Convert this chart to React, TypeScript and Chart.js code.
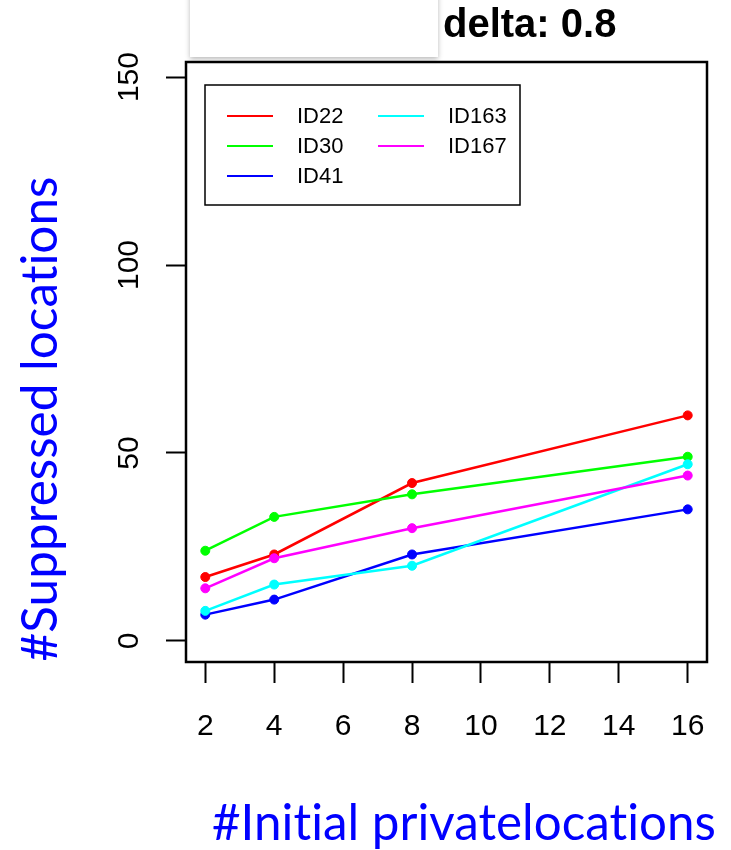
import React, { useEffect, useRef } from "react";
import { Chart, registerables } from "chart.js";

Chart.register(...registerables);

// ---- data ----
const xValues = [2, 4, 8, 16];
const seriesNames = ["ID22", "ID30", "ID41", "ID163", "ID167"];
const id22 = [17, 23, 42, 60];
const id30 = [24, 33, 39, 49];
const id41 = [7, 11, 23, 35];
const id163 = [8, 15, 20, 47];
const id167 = [14, 22, 30, 44];
const seriesValues = [id22, id30, id41, id163, id167];
const seriesColors = ["#FF0000", "#00FF00", "#0000FF", "#00FFFF", "#FF00FF"];
const xTickValues = [2, 4, 6, 8, 10, 12, 14, 16];
const yTickValues = [0, 50, 100, 150];
const xTitle = "#Initial privatelocations";
const yTitle = "#Suppressed locations";
const panelTitle = "delta: 0.8";

const TICK_FONT = '30px "Liberation Sans", Arial, sans-serif';
const LEGEND_FONT = '22px "Liberation Sans", Arial, sans-serif';
const TITLE_FAMILY = 'Lato, "Open Sans", sans-serif';

const decorPlugin = {
  id: "decor",
  beforeDraw(chart: any) {
    const ctx = chart.ctx;
    ctx.save();
    ctx.fillStyle = "#ffffff";
    ctx.fillRect(0, 0, chart.width, chart.height);
    // leftover white panel with soft shadow at the top
    ctx.shadowColor = "rgba(0,0,0,0.28)";
    ctx.shadowBlur = 5;
    ctx.shadowOffsetX = 0;
    ctx.shadowOffsetY = 2;
    ctx.fillStyle = "#ffffff";
    ctx.fillRect(190, -10, 248, 67);
    ctx.restore();
  },
  afterDraw(chart: any) {
    const ctx = chart.ctx;
    const { left, right, top, bottom } = chart.chartArea;
    const xs = chart.scales.x;
    const ys = chart.scales.y;
    ctx.save();

    // plot box
    ctx.strokeStyle = "#000";
    ctx.lineWidth = 2.5;
    ctx.strokeRect(left, top, right - left, bottom - top);

    // x tick labels
    ctx.fillStyle = "#000";
    ctx.font = TICK_FONT;
    ctx.textAlign = "center";
    ctx.textBaseline = "alphabetic";
    xTickValues.forEach((v) => {
      ctx.fillText(String(v), xs.getPixelForValue(v), 735);
    });

    // y tick labels (rotated, as in R's default las=0)
    yTickValues.forEach((v) => {
      ctx.save();
      ctx.translate(137.5, ys.getPixelForValue(v));
      ctx.rotate(-Math.PI / 2);
      ctx.textAlign = "center";
      ctx.fillText(String(v), 0, 0);
      ctx.restore();
    });

    // legend
    const lx = left + 19;
    const ly = top + 23;
    const lw = 315;
    const lh = 120;
    ctx.lineWidth = 1.5;
    ctx.strokeStyle = "#000";
    ctx.strokeRect(lx, ly, lw, lh);
    ctx.font = LEGEND_FONT;
    ctx.textAlign = "left";
    ctx.textBaseline = "middle";
    const ds = chart.data.datasets;
    ds.forEach((d: any, i: number) => {
      const col = Math.floor(i / 3);
      const row = i % 3;
      const y = ly + 31 + row * 30;
      const x0 = lx + 22 + col * 151;
      ctx.strokeStyle = d.borderColor;
      ctx.lineWidth = 2;
      ctx.beginPath();
      ctx.moveTo(x0, y);
      ctx.lineTo(x0 + 46, y);
      ctx.stroke();
      ctx.fillStyle = "#000";
      ctx.fillText(d.label, x0 + 70, y + 1);
    });

    // panel title
    ctx.font = 'bold 40px "Liberation Sans", Arial, sans-serif';
    ctx.textAlign = "left";
    ctx.textBaseline = "alphabetic";
    ctx.fillStyle = "#000";
    ctx.fillText(panelTitle, 443, 37);

    // axis titles
    try {
      (ctx as any).letterSpacing = "0.01px";
    } catch (e) {}
    ctx.fillStyle = "#0000FF";
    ctx.font = `48px ${TITLE_FAMILY}`;
    let w = ctx.measureText(xTitle).width;
    let size = (48 * 504) / w;
    ctx.font = `${size}px ${TITLE_FAMILY}`;
    ctx.textAlign = "left";
    ctx.fillText(xTitle, 212, 840);

    ctx.font = `48px ${TITLE_FAMILY}`;
    w = ctx.measureText(yTitle).width;
    size = (48 * 485) / w;
    ctx.font = `${size}px ${TITLE_FAMILY}`;
    ctx.translate(57, 419);
    ctx.rotate(-Math.PI / 2);
    ctx.textAlign = "center";
    ctx.fillText(yTitle, 0, 0);

    ctx.restore();
  },
};

export default function App() {
  const ref = useRef<HTMLCanvasElement | null>(null);

  useEffect(() => {
    if (!ref.current) return;
    const datasets = seriesNames.map((name, i) => ({
      label: name,
      data: xValues.map((x, j) => ({ x, y: seriesValues[i][j] })),
      borderColor: seriesColors[i],
      backgroundColor: seriesColors[i],
      borderWidth: 2.5,
      pointRadius: 4.5,
      pointBorderWidth: 1,
      pointBorderColor: seriesColors[i],
      pointBackgroundColor: seriesColors[i],
      tension: 0,
      fill: false,
      order: seriesNames.length - i,
    }));
    const chart = new Chart(ref.current, {
      type: "line",
      data: { datasets },
      options: {
        animation: false,
        responsive: false,
        maintainAspectRatio: false,
        layout: { padding: { top: 62, right: 24, left: 0, bottom: 0 } },
        plugins: {
          legend: { display: false },
          tooltip: { enabled: false },
          title: { display: false },
        },
        scales: {
          x: {
            type: "linear",
            min: 1.44,
            max: 16.56,
            afterBuildTicks: (s: any) => {
              s.ticks = xTickValues.map((v) => ({ value: v }));
            },
            afterFit: (s: any) => {
              s.height = 188;
            },
            ticks: { display: false },
            grid: {
              display: true,
              drawOnChartArea: false,
              drawTicks: true,
              tickLength: 21,
              tickWidth: 2,
              tickColor: "#000",
            },
            border: { display: false },
          },
          y: {
            type: "linear",
            min: -5.6,
            max: 154,
            afterBuildTicks: (s: any) => {
              s.ticks = yTickValues.map((v) => ({ value: v }));
            },
            afterFit: (s: any) => {
              s.width = 186;
            },
            ticks: { display: false },
            grid: {
              display: true,
              drawOnChartArea: false,
              drawTicks: true,
              tickLength: 20,
              tickWidth: 2,
              tickColor: "#000",
            },
            border: { display: false },
          },
        },
      } as any,
      plugins: [decorPlugin],
    });
    return () => chart.destroy();
  }, []);

  return (
    <div style={{ position: "absolute", left: 0, top: 0, width: 731, height: 850 }}>
      <canvas ref={ref} width={731} height={850} />
    </div>
  );
}
